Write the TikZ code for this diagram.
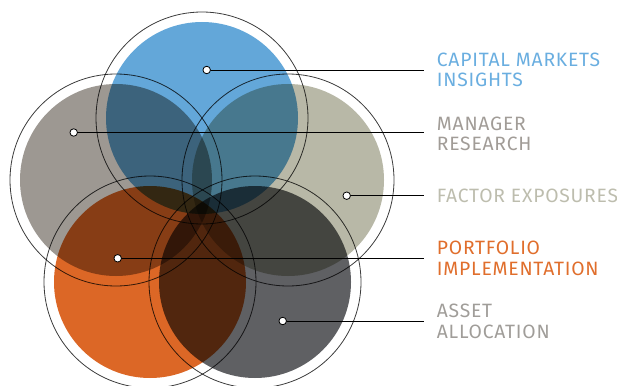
\documentclass[tikz,border=0pt]{standalone}
\usepackage{fontspec}
\setmainfont[LetterSpace=4.0]{Fira Sans}
\usetikzlibrary{positioning}

\definecolor{capblue}{HTML}{63A7D9}
\definecolor{mangray}{HTML}{9D9892}
\definecolor{factgray}{HTML}{B8B8A7}
\definecolor{portorange}{HTML}{DC6726}
\definecolor{assetgray}{HTML}{5F6063}
\definecolor{ringgray}{HTML}{3C3C3C}
\definecolor{captext}{HTML}{6AAEE0}
\definecolor{mantext}{HTML}{A19C97}
\definecolor{facttext}{HTML}{BDBDAE}
\definecolor{porttext}{HTML}{E06E2C}
\definecolor{assettext}{HTML}{A09D99}

\tikzset{
    dot/.style={circle, draw=black, fill=white, line width=0.8pt,
        inner sep=0pt, minimum size=7.5pt},
    lab/.style={anchor=west, align=left, inner sep=0pt,
        font=\fontsize{19.3}{20.6}\selectfont},
    ring/.style={draw=ringgray, line width=0.8pt},
    lead/.style={draw=black, line width=0.9pt, shorten >=12.7pt},
}

\begin{document}
\begin{tikzpicture}[x=1pt, y=-1pt]
            \useasboundingbox (0,0) rectangle (617,385);

            \begin{scope}[blend group=multiply]
                \foreach \cx/\cy/\col in {202/118/capblue, 116/180/mangray,
                    288/180/factgray, 150/282/portorange, 255/282/assetgray} {
                        \fill[\col] (\cx,\cy) circle (96pt);
                        \draw[ring] (\cx,\cy) circle (106pt);
                    }
            \end{scope}

            \node[dot] (capdot) at (206.7,70) {};
            \node[dot] (mandot) at (73.7,132.5) {};
            \node[dot] (factdot) at (346.7,195.7) {};
            \node[dot] (portdot) at (117.7,258.3) {};
            \node[dot] (assetdot) at (282.7,321) {};

            \node[lab, text=captext] (captxt) at (436.7,70)
                {CAPITAL MARKETS\\INSIGHTS};
            \node[lab, text=mantext] (mantxt) at (436.7,134)
                {MANAGER\\RESEARCH};
            \node[lab, text=facttext] (facttxt) at (436.7,195.7)
                {FACTOR EXPOSURES};
            \node[lab, text=porttext] (porttxt) at (436.7,258.3)
                {PORTFOLIO\\IMPLEMENTATION};
            \node[lab, text=assettext] (assettxt) at (436.7,321.5)
                {ASSET\\ALLOCATION};

            \foreach \n in {cap,man,fact,port,asset} {
                    \draw[lead] (\n dot) -- (\n txt.west |- \n dot);
                }

        \end{tikzpicture}
\end{document}
